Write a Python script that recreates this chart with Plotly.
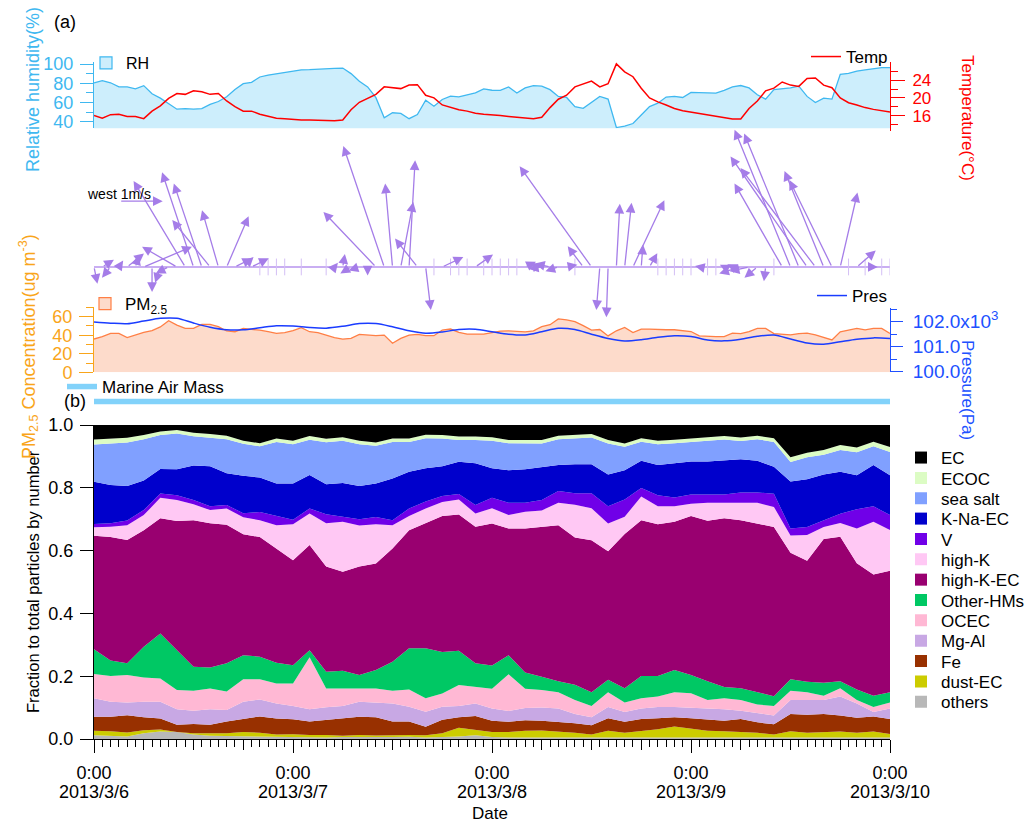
import plotly.graph_objects as go

# ---------------- data ----------------
hours = list(range(97))          # hours since 2013/3/6 0:00
rh = [80.3, 82.7, 80.5, 76.2, 76.2, 74.1, 77.5, 69.0, 64.5, 58.5,
      53.0, 53.5, 53.0, 53.5, 58.0, 61.0, 66.0, 73.5, 79.5, 81.0,
      86.5, 88.5, 90.0, 91.5, 93.0, 94.0, 94.2, 94.8, 95.2, 95.4,
      95.8, 90.0, 82.0, 76.2, 65.0, 44.1, 49.3, 48.6, 43.1, 47.5,
      62.4, 56.1, 63.1, 66.5, 65.8, 68.2, 70.0, 74.1, 72.7, 72.6,
      76.1, 69.8, 75.1, 77.6, 76.9, 73.3, 66.3, 65.2, 55.7, 53.9,
      59.9, 66.3, 63.5, 33.9, 35.3, 38.1, 46.9, 55.7, 59.2, 65.6,
      66.3, 65.2, 70.5, 70.5, 69.8, 69.8, 72.6, 76.1, 77.6, 75.1,
      68.0, 63.5, 73.3, 74.0, 75.1, 76.9, 66.3, 59.9, 64.5, 63.5,
      89.2, 90.2, 92.7, 93.8, 95.2, 96.2, 96.2]
temp = [16.0, 15.4, 16.2, 16.3, 15.8, 15.8, 15.3, 17.0, 18.2, 19.9,
        21.0, 20.8, 21.6, 21.4, 20.8, 21.0, 19.3, 18.0, 17.0, 17.0,
        16.3, 15.8, 15.4, 15.3, 15.1, 15.0, 15.0, 14.9, 14.9, 14.8,
        15.0, 17.3, 19.0, 19.9, 20.8, 22.5, 22.3, 22.1, 22.9, 23.0,
        20.6, 20.0, 18.4, 17.8, 17.3, 17.0, 16.5, 16.3, 16.2, 16.0,
        15.8, 15.6, 15.4, 15.3, 15.6, 17.8, 19.7, 20.6, 22.5, 23.1,
        23.8, 22.5, 23.2, 27.7, 25.9, 24.8, 22.2, 20.0, 19.1, 18.4,
        17.6, 17.1, 16.8, 16.5, 16.2, 15.9, 15.6, 15.2, 15.2, 17.6,
        19.3, 21.6, 22.2, 23.6, 22.9, 22.6, 24.4, 24.5, 22.9, 22.3,
        20.0, 18.9, 18.4, 17.8, 17.4, 17.1, 16.8]
pm25 = [35.9, 38.4, 42.0, 42.0, 37.4, 40.2, 43.1, 44.9, 49.0, 55.7,
        51.0, 47.4, 47.4, 51.7, 51.7, 49.2, 44.6, 43.8, 47.4, 46.3,
        45.6, 43.8, 42.0, 42.8, 44.9, 48.1, 43.8, 42.8, 40.2, 37.4,
        35.9, 36.6, 41.0, 40.2, 39.5, 40.2, 31.3, 36.6, 40.2, 41.0,
        39.5, 39.5, 45.6, 46.7, 43.1, 41.3, 41.3, 41.3, 42.8, 44.5,
        44.8, 44.0, 43.7, 44.8, 49.2, 51.4, 57.6, 56.5, 54.7, 50.3,
        45.5, 46.2, 39.3, 44.8, 48.4, 42.9, 46.6, 46.6, 45.9, 45.9,
        45.9, 44.8, 44.0, 39.3, 38.5, 38.5, 38.5, 42.2, 41.8, 44.0,
        47.3, 47.3, 41.8, 41.1, 40.4, 41.8, 42.2, 40.4, 37.4, 34.9,
        43.7, 45.5, 47.3, 45.9, 47.3, 47.3, 41.8]

t2 = list(range(0, 97, 2))       # 2-hourly grid
pres = [101990, 101945, 101921, 102030, 102138, 102140, 101950, 101780, 101680, 101680,
        101760, 101840, 101830, 101770, 101745, 101820, 101930, 101930, 101800, 101640,
        101540, 101590, 101690, 101700, 101600, 101500, 101470, 101600, 101740, 101690,
        101500, 101330, 101230, 101280, 101380, 101440, 101410, 101270, 101235, 101300,
        101420, 101470, 101310, 101150, 101100, 101200, 101300, 101355, 101330]

# wind vectors: hour, u (east, m/s), v (north, m/s)
wind_hour = [0, 1, 2, 3, 4, 5, 6, 7, 8, 9, 10, 11, 12, 13, 14, 15, 16, 17, 18, 19,
             24, 26, 27, 29, 30, 31, 32, 33, 34, 35, 36, 37, 38, 39, 40, 42, 46,
             52, 53, 54, 55, 56, 57, 59, 60, 61, 62, 63, 64, 65, 66, 67,
             73, 76, 77, 78, 79, 80, 81, 83, 84, 85, 86, 87, 88, 89, 90, 92, 94]
wind_u = [0.08, 0.27, -0.20, 0.10, 0.39, 0.08, 1.12, 0.00, -0.12, -0.30, -0.81, -1.20, -0.73, -0.65, -0.88, -0.38, 0.51, 0.40, 0.24, 0.40,
          -0.08, -0.08, -0.08, 0.08, 0.05, -0.25, -0.25, 0.00, -1.22, -0.95, -0.17, 0.29, 0.14, -0.52, 0.12, 0.49, 0.41,
          0.25, 0.20, -0.30, -0.35, -0.30, 0.25, -0.36, -1.67, -0.08, -0.04, 0.08, 0.16, 0.73, 0.04, 0.18,
          -0.10, -0.10, -0.12, -0.50, -0.45, -0.30, -0.04, -1.11, -1.30, -1.27, -1.78, -1.74, -0.91, -0.99, 0.40, 0.44, 0.10]
wind_v = [-0.39, 0.17, -0.25, 0.15, 0.31, 0.27, 0.47, -0.58, -0.37, -0.15, 0.47, 2.00, 2.20, 1.94, 1.09, 1.32, 1.18, 0.20, 0.23, 0.20,
          0.05, 0.05, 0.05, 0.10, 0.30, -0.15, -0.08, -0.20, 1.28, 2.81, 1.94, 1.51, 2.48, 0.66, -1.00, 0.23, 0.29,
          0.12, 0.05, -0.05, 0.08, -0.10, 0.05, 0.48, 2.34, -1.00, -1.17, 1.47, 1.49, 1.55, 0.52, 0.32,
          0.02, 0.05, 0.06, -0.15, -0.10, -0.25, -0.33, 1.94, 3.19, 3.10, 2.57, 2.30, 2.23, 2.02, 1.73, 0.38, 0.00]
calm_hours = [20, 21, 22, 23, 25, 28, 41, 43, 44, 45, 47, 48, 49, 50, 51, 58, 68, 69, 70, 71, 72,
              74, 75, 82, 91, 93, 95, 96]
ref_speed = 1.0                  # "west 1m/s" reference vector
ref_hour, ref_level = 3.1, 1.53

marine_period = [0, 96]

# cumulative upper boundary of each species (fraction of particle number), 2-hourly
ec_top = [1.0] * len(t2)
ecoc_top = [0.954, 0.957, 0.959, 0.968, 0.979, 0.984, 0.975, 0.971, 0.966, 0.950, 0.942, 0.957, 0.950, 0.965, 0.956, 0.961, 0.950,
            0.944, 0.957, 0.957, 0.969, 0.968, 0.963, 0.963, 0.961, 0.952, 0.952, 0.952, 0.966, 0.969, 0.971, 0.952, 0.941,
            0.958, 0.950, 0.953, 0.957, 0.963, 0.965, 0.960, 0.966, 0.958, 0.897, 0.912, 0.920, 0.936, 0.928, 0.947, 0.930]
salt_top = [0.938, 0.941, 0.944, 0.955, 0.968, 0.973, 0.964, 0.959, 0.955, 0.940, 0.932, 0.946, 0.939, 0.953, 0.945, 0.950, 0.939,
            0.934, 0.946, 0.946, 0.958, 0.957, 0.952, 0.952, 0.950, 0.942, 0.941, 0.941, 0.955, 0.958, 0.960, 0.941, 0.931,
            0.947, 0.939, 0.942, 0.946, 0.952, 0.954, 0.949, 0.955, 0.946, 0.882, 0.897, 0.905, 0.920, 0.913, 0.932, 0.914]
knaec_top = [0.819, 0.809, 0.806, 0.823, 0.860, 0.859, 0.871, 0.869, 0.846, 0.838, 0.833, 0.814, 0.814, 0.841, 0.811, 0.815, 0.806,
             0.814, 0.830, 0.851, 0.862, 0.869, 0.883, 0.878, 0.862, 0.856, 0.859, 0.867, 0.873, 0.875, 0.875, 0.842, 0.856,
             0.886, 0.873, 0.878, 0.884, 0.884, 0.887, 0.891, 0.886, 0.867, 0.820, 0.827, 0.842, 0.851, 0.840, 0.873, 0.840]
v_top = [0.685, 0.687, 0.696, 0.729, 0.782, 0.776, 0.761, 0.741, 0.745, 0.719, 0.723, 0.710, 0.698, 0.734, 0.716, 0.708, 0.700,
         0.707, 0.697, 0.734, 0.756, 0.774, 0.780, 0.745, 0.768, 0.752, 0.752, 0.761, 0.790, 0.783, 0.783, 0.741, 0.763,
         0.799, 0.776, 0.769, 0.779, 0.779, 0.779, 0.785, 0.785, 0.781, 0.670, 0.675, 0.697, 0.717, 0.732, 0.741, 0.713]
highk_top = [0.674, 0.676, 0.681, 0.713, 0.768, 0.761, 0.748, 0.729, 0.734, 0.706, 0.697, 0.681, 0.684, 0.718, 0.687, 0.692, 0.680,
             0.684, 0.681, 0.710, 0.734, 0.755, 0.763, 0.718, 0.735, 0.713, 0.724, 0.728, 0.752, 0.746, 0.735, 0.686, 0.708,
             0.772, 0.741, 0.741, 0.749, 0.752, 0.752, 0.752, 0.752, 0.739, 0.648, 0.650, 0.675, 0.688, 0.670, 0.692, 0.666]
highkec_top = [0.647, 0.643, 0.634, 0.665, 0.703, 0.694, 0.697, 0.687, 0.682, 0.652, 0.643, 0.607, 0.569, 0.618, 0.549, 0.533, 0.549,
               0.559, 0.607, 0.665, 0.687, 0.710, 0.715, 0.676, 0.686, 0.670, 0.670, 0.675, 0.681, 0.642, 0.633, 0.598, 0.653,
               0.697, 0.684, 0.692, 0.710, 0.695, 0.703, 0.697, 0.686, 0.675, 0.593, 0.568, 0.637, 0.644, 0.560, 0.524, 0.536]
hms_top = [0.286, 0.250, 0.241, 0.294, 0.336, 0.283, 0.230, 0.228, 0.241, 0.267, 0.262, 0.243, 0.235, 0.283, 0.214, 0.217, 0.204,
           0.220, 0.246, 0.289, 0.289, 0.277, 0.281, 0.241, 0.234, 0.267, 0.212, 0.198, 0.184, 0.173, 0.149, 0.189, 0.162,
           0.201, 0.201, 0.220, 0.204, 0.184, 0.166, 0.162, 0.149, 0.136, 0.190, 0.182, 0.179, 0.184, 0.158, 0.138, 0.149]
ocec_top = [0.207, 0.201, 0.204, 0.196, 0.193, 0.156, 0.154, 0.161, 0.151, 0.190, 0.190, 0.177, 0.177, 0.260, 0.161, 0.161, 0.161,
            0.161, 0.154, 0.158, 0.130, 0.145, 0.172, 0.165, 0.160, 0.206, 0.160, 0.156, 0.149, 0.124, 0.105, 0.149, 0.116,
            0.130, 0.135, 0.149, 0.146, 0.124, 0.130, 0.124, 0.110, 0.105, 0.154, 0.149, 0.138, 0.162, 0.124, 0.102, 0.116]
mgal_top = [0.130, 0.119, 0.116, 0.119, 0.119, 0.095, 0.090, 0.095, 0.092, 0.119, 0.126, 0.113, 0.105, 0.095, 0.101, 0.105, 0.119,
            0.117, 0.113, 0.103, 0.087, 0.103, 0.105, 0.113, 0.097, 0.089, 0.099, 0.100, 0.097, 0.080, 0.069, 0.102, 0.086,
            0.097, 0.102, 0.102, 0.100, 0.097, 0.095, 0.090, 0.083, 0.075, 0.124, 0.124, 0.124, 0.135, 0.113, 0.086, 0.097]
fe_top = [0.071, 0.071, 0.076, 0.069, 0.065, 0.045, 0.048, 0.045, 0.056, 0.064, 0.072, 0.065, 0.063, 0.056, 0.061, 0.064, 0.071,
          0.069, 0.056, 0.056, 0.039, 0.061, 0.069, 0.073, 0.058, 0.055, 0.060, 0.058, 0.055, 0.050, 0.044, 0.066, 0.055,
          0.064, 0.066, 0.069, 0.066, 0.061, 0.058, 0.064, 0.053, 0.047, 0.080, 0.077, 0.080, 0.075, 0.068, 0.072, 0.064]
dustec_top = [0.026, 0.025, 0.021, 0.028, 0.030, 0.022, 0.018, 0.018, 0.018, 0.022, 0.020, 0.014, 0.015, 0.013, 0.013, 0.010, 0.013,
              0.011, 0.013, 0.013, 0.012, 0.018, 0.036, 0.028, 0.022, 0.022, 0.026, 0.027, 0.024, 0.020, 0.014, 0.026, 0.020,
              0.025, 0.031, 0.040, 0.033, 0.026, 0.025, 0.022, 0.020, 0.014, 0.025, 0.020, 0.022, 0.024, 0.020, 0.024, 0.016]
others_top = [0.012, 0.010, 0.008, 0.018, 0.024, 0.022, 0.014, 0.010, 0.009, 0.010, 0.008, 0.008, 0.007, 0.006, 0.005, 0.006, 0.007,
              0.006, 0.006, 0.007, 0.005, 0.006, 0.008, 0.012, 0.006, 0.005, 0.005, 0.006, 0.005, 0.005, 0.004, 0.005, 0.005,
              0.005, 0.006, 0.006, 0.005, 0.005, 0.005, 0.005, 0.005, 0.004, 0.005, 0.005, 0.005, 0.005, 0.005, 0.005, 0.005]

species = ["EC", "ECOC", "sea salt", "K-Na-EC", "V", "high-K", "high-K-EC",
           "Other-HMs", "OCEC", "Mg-Al", "Fe", "dust-EC", "others"]
species_colors = ["#000000", "#dcfcc4", "#80a0ff", "#0000cc", "#7000e8", "#ffc8f4", "#990070",
                  "#00c864", "#ffb8d4", "#c8a8e4", "#983000", "#cccc00", "#b8b8b8"]
species_tops = [ec_top, ecoc_top, salt_top, knaec_top, v_top, highk_top, highkec_top,
                hms_top, ocec_top, mgal_top, fe_top, dustec_top, others_top]

day_ticks = [0, 24, 48, 72, 96]
time_labels = ["0:00"] * len(day_ticks)
date_labels = ["2013/3/6", "2013/3/7", "2013/3/8", "2013/3/9", "2013/3/10"]
six_hour_ticks = list(range(0, 97, 6))

# ---------------- layout geometry (page pixels; page body has an 8px margin) ----------------
OFF = 8
W, H = 1034 - OFF, 824 - OFF
PX_L, PX_R, PY_T, PY_B = 94, 890, 20, 739          # plot area in page pixels
ML, MR, MT, MB = PX_L - OFF, W + OFF - PX_R, PY_T - OFF, H + OFF - PY_B
PW, PH = PX_R - PX_L, PY_B - PY_T


def fy(py):
    return (PY_B - py) / PH


def fx(px):
    return (px - PX_L) / PW


def cx(px):
    return (px - OFF) / W


def cy(py):
    return 1 - (py - OFF) / H


FONT = "Liberation Sans, Arial, sans-serif"
RH_C, T_C, PM_C, P_C = "#3fb8f0", "#ff0000", "#f9a51a", "#2050ff"
WIND_C = "#a57de8"
WIND_RANGE = [-1.28, 3.23]
WIND_DOM = [fy(322), fy(128)]
# hours per m/s so that arrows keep equal x/y scaling
px_per_ms = (WIND_DOM[1] - WIND_DOM[0]) * PH / (WIND_RANGE[1] - WIND_RANGE[0])
px_per_hour = PW / 96
K = px_per_ms / px_per_hour

fig = go.Figure()

# ---- panel (a) top: RH + Temp ----
fig.add_trace(go.Scatter(x=hours, y=rh, mode="lines", fill="tozeroy", fillcolor="#cdeefc",
                         line=dict(color=RH_C, width=1.3), showlegend=False, xaxis="x", yaxis="y"))
fig.add_trace(go.Bar(x=[None], y=[None], name="RH", marker=dict(color="#cdeefc", line=dict(color=RH_C, width=1.2)),
                     xaxis="x", yaxis="y", legend="legend2"))
fig.add_trace(go.Scatter(x=hours, y=temp, mode="lines", name="Temp", line=dict(color=T_C, width=1.5),
                         xaxis="x", yaxis="y2", legend="legend3"))

# ---- wind panel ----
fig.add_trace(go.Scatter(x=calm_hours, y=[0] * len(calm_hours), mode="markers",
                         marker=dict(symbol="line-ns", size=12, line=dict(width=1, color="#d4bff5")),
                         showlegend=False, xaxis="x3", yaxis="y3"))

# ---- PM2.5 + Pressure ----
fig.add_trace(go.Scatter(x=hours, y=pm25, mode="lines", fill="tozeroy", fillcolor="#fddbcb",
                         line=dict(color="#ff7f45", width=1.3), showlegend=False, xaxis="x4", yaxis="y4"))
fig.add_trace(go.Bar(x=[None], y=[None], name="PM<sub>2.5</sub>",
                     marker=dict(color="#fddbcb", line=dict(color="#ff7f45", width=1.2)),
                     xaxis="x4", yaxis="y4", legend="legend4"))
fig.add_trace(go.Scatter(x=t2, y=pres, mode="lines", name="Pres",
                         line=dict(color="#1a3cff", width=1.5, shape="spline", smoothing=0.8),
                         xaxis="x4", yaxis="y5", legend="legend5"))

# ---- Marine air mass bar ----
fig.add_trace(go.Scatter(x=marine_period, y=[0.5, 0.5], mode="lines", name="Marine Air Mass",
                         line=dict(color="#82d2fa", width=5.5), xaxis="x6", yaxis="y6", legend="legend6"))

# ---- panel (b) stacked fractions ----
for i, (name, col, top) in enumerate(reversed(list(zip(species, species_colors, species_tops)))):
    fig.add_trace(go.Scatter(x=t2, y=top, mode="lines", line=dict(width=0, color=col),
                             fill="tozeroy" if i == 0 else "tonexty", fillcolor=col,
                             showlegend=False, xaxis="x7", yaxis="y7"))
species_legends = ["legend"] + ["legend%d" % k for k in range(7, 7 + len(species) - 1)]
for name, col, lg in zip(species, species_colors, species_legends):
    fig.add_trace(go.Bar(x=[None], y=[None], name=name, marker=dict(color=col, line=dict(width=0)),
                         xaxis="x7", yaxis="y7", legend=lg))
# dummy trace for the 6-hour tick / date label overlay axis
fig.add_trace(go.Scatter(x=[None], y=[None], showlegend=False, xaxis="x8", yaxis="y7"))

# ---- annotations ----
ann = []
for h, u, v in zip(wind_hour, wind_u, wind_v):
    ann.append(dict(x=h + u * K, y=v, ax=h, ay=0, xref="x3", yref="y3", axref="x3", ayref="y3",
                    text="", showarrow=True, arrowhead=2, arrowsize=1.5, arrowwidth=1.3,
                    arrowcolor=WIND_C, standoff=0, startstandoff=0))
ann.append(dict(x=ref_hour + ref_speed * K, y=ref_level, ax=ref_hour, ay=ref_level, xref="x3", yref="y3",
                axref="x3", ayref="y3", text="", showarrow=True, arrowhead=2, arrowsize=1.5, arrowwidth=1.3,
                arrowcolor=WIND_C, standoff=0))
ann.append(dict(x=fx(85), y=fy(194), xref="paper", yref="paper", xanchor="left", yanchor="middle",
                text="west 1m/s", showarrow=False, font=dict(size=14, color="black")))

titles = [
    dict(x=fx(65), y=fy(22), text="(a)", font=dict(size=18, color="black")),
    dict(x=fx(75), y=fy(401), text="(b)", font=dict(size=18, color="black")),
    dict(x=fx(490), y=fy(813), text="Date", font=dict(size=17, color="black")),
    dict(x=fx(33), y=fy(582), text="Fraction to total particles by number", textangle=-90,
         font=dict(size=16.5, color="black")),
    dict(x=fx(33), y=fy(90), text="Relative humidity(%)", textangle=-90, font=dict(size=18, color=RH_C)),
    dict(x=fx(29), y=fy(347), text="PM<sub>2.5</sub> Concentration(ug m<sup>-3</sup>)", textangle=-90,
         font=dict(size=18, color=PM_C)),
    dict(x=fx(968), y=fy(118), text="Temperature(°C)", textangle=90, font=dict(size=17, color=T_C)),
    dict(x=fx(968), y=fy(390), text="Pressure(Pa)", textangle=90, font=dict(size=17, color=P_C)),
]
for a in titles:
    a.update(xref="paper", yref="paper", showarrow=False, xanchor="center", yanchor="middle")
ann += titles

hidden_x = dict(range=[0, 96], visible=False, domain=[0, 1], automargin=False)
noaxis = dict(showgrid=False, zeroline=False, automargin=False)


def legend_at(px, py, size=17):
    return dict(x=cx(px), y=cy(py), xref="container", yref="container", xanchor="left", yanchor="middle",
                bgcolor="rgba(0,0,0,0)", font=dict(size=size, color="black"), borderwidth=0,
                traceorder="normal")


legends = dict(
    legend2=legend_at(86, 63, 16),
    legend3=legend_at(806, 57),
    legend4=legend_at(85, 304),
    legend5=legend_at(812, 296),
    legend6=legend_at(62, 387),
)
for k, lg in enumerate(species_legends):
    legends[lg] = legend_at(901, 458 + 20.35 * k, 17)

fig.update_layout(
    width=W, height=H, margin=dict(l=ML, r=MR, t=MT, b=MB, pad=0, autoexpand=False),
    paper_bgcolor="white", plot_bgcolor="rgba(0,0,0,0)",
    font=dict(family=FONT, size=16, color="black"),
    annotations=ann,
    xaxis=dict(hidden_x, anchor="y"),
    yaxis=dict(domain=[fy(128.3), fy(62)], range=[33.1, 102.1], anchor="x", showline=True, linecolor=RH_C,
               ticks="outside", ticklen=13, tickcolor=RH_C, tickvals=[40, 60, 80, 100],
               tickfont=dict(size=18, color=RH_C), ticklabelstandoff=3,
               minor=dict(tickmode="array", tickvals=[50, 70, 90], ticklen=7, tickcolor=RH_C, ticks="outside"),
               **noaxis),
    yaxis2=dict(domain=[fy(131), fy(62)], range=[12.5, 28.13], anchor="x", side="right", showline=True,
                linecolor=T_C, ticks="outside", ticklen=14, tickcolor=T_C, tickvals=[16, 20, 24],
                tickfont=dict(size=17, color=T_C), ticklabelstandoff=4,
                minor=dict(tickmode="array", tickvals=[14, 18, 22, 26], ticklen=7, tickcolor=T_C, ticks="outside"),
                **noaxis),
    xaxis3=dict(hidden_x, anchor="y3"),
    yaxis3=dict(domain=WIND_DOM, range=WIND_RANGE, anchor="x3", showline=False, showticklabels=False,
                ticks="", showgrid=False, zeroline=True, zerolinecolor="#c9aef2", zerolinewidth=1.5,
                automargin=False),
    xaxis4=dict(hidden_x, anchor="y4"),
    yaxis4=dict(domain=[fy(372.3), fy(306.7)], range=[0, 70.8], anchor="x4", showline=True, linecolor=PM_C,
                ticks="outside", ticklen=14, tickcolor=PM_C, tickvals=[0, 20, 40, 60],
                tickfont=dict(size=18, color=PM_C), ticklabelstandoff=3,
                minor=dict(tickmode="array", tickvals=[10, 30, 50, 70], ticklen=7, tickcolor=PM_C, ticks="outside"),
                **noaxis),
    yaxis5=dict(domain=[fy(371.7), fy(308.3)], range=[100000, 102540], anchor="x4", side="right", showline=True,
                linecolor=P_C, ticks="outside", ticklen=12, tickcolor=P_C,
                tickvals=[100000, 101000, 102000], ticktext=["100.0", "101.0", "102.0x10<sup>3</sup>"],
                tickfont=dict(size=19, color=P_C), ticklabelstandoff=6,
                minor=dict(tickmode="array", tickvals=[100500, 101500, 102500], ticklen=6, tickcolor=P_C,
                           ticks="outside"),
                **noaxis),
    xaxis6=dict(hidden_x, anchor="y6"),
    yaxis6=dict(domain=[fy(407), fy(396)], range=[0, 1], anchor="x6", visible=False, automargin=False),
    xaxis7=dict(domain=[0, 1], range=[0, 96], anchor="y7", showline=True, linecolor="black", linewidth=1,
                ticks="outside", ticklen=13, tickcolor="black", tickvals=day_ticks, ticktext=time_labels,
                tickfont=dict(size=18, color="black"), ticklabelstandoff=4,
                minor=dict(tickmode="linear", tick0=0, dtick=1, ticklen=7, tickcolor="black", ticks="outside",
                           showgrid=False),
                **noaxis),
    xaxis8=dict(range=[0, 96], overlaying="x7", anchor="y7", side="bottom", showline=False,
                ticks="outside", ticklen=10, tickcolor="black", tickvals=six_hour_ticks,
                ticktext=[date_labels[day_ticks.index(t)] if t in day_ticks else "" for t in six_hour_ticks],
                tickfont=dict(size=18, color="black"), ticklabelstandoff=26, **noaxis),
    yaxis7=dict(domain=[fy(739), fy(425)], range=[0, 1.0], anchor="x7", showline=True, linecolor="black",
                ticks="outside", ticklen=13, tickcolor="black", tickvals=[0, 0.2, 0.4, 0.6, 0.8, 1.0],
                tickformat=".1f", tickfont=dict(size=18, color="black"), ticklabelstandoff=3, **noaxis),
    showlegend=True,
    **legends,
)

fig.write_html("out.html")
